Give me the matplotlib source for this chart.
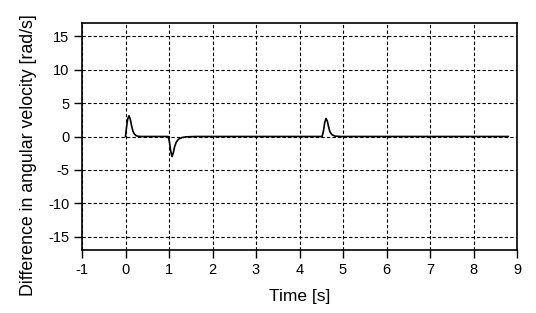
import numpy as np
import matplotlib.pyplot as plt

plt.rcParams['font.family'] = ['Liberation Sans', 'DejaVu Sans']
plt.rcParams['axes.unicode_minus'] = False

# time [s] and angular velocity difference [rad/s]
t = [0.0, 0.02, 0.05, 0.08, 0.11, 0.14, 0.17, 0.2, 0.24, 0.28, 0.35, 0.5, 0.8,
     0.98, 1.01, 1.04, 1.07, 1.1, 1.13, 1.17, 1.22, 1.3, 1.4, 1.6,
     3.0, 4.52, 4.55, 4.58, 4.61, 4.64, 4.67, 4.7, 4.75, 4.82, 4.95, 6.0, 8.8]
dw = [0.0, 1.2, 2.6, 3.1, 2.6, 1.6, 0.8, 0.4, 0.15, 0.05, 0.0, 0.0, 0.0,
      0.0, -0.8, -2.2, -3.0, -2.4, -1.5, -0.8, -0.4, -0.15, -0.05, 0.0,
      0.0, 0.0, 0.8, 2.1, 2.7, 2.3, 1.4, 0.7, 0.25, 0.05, 0.0, 0.0, 0.0]

xticks = list(range(-1, 10))
yticks = list(range(-15, 16, 5))

fig = plt.figure(figsize=(5.36, 3.13), dpi=100)
ax = fig.add_axes([82/536, 1 - 250/313, 435/536, 227/313])
ax.plot(t, dw, color='black', lw=1.2)
ax.set_xlim(-1, 9)
ax.set_ylim(-17, 17)
ax.set_xticks(xticks)
ax.set_yticks(yticks)
ax.grid(True, color='black', ls=(0, (3, 2)), lw=0.8)
ax.tick_params(direction='out', length=6, width=1, labelsize=10.5, pad=3)
for s in ax.spines.values():
    s.set_linewidth(1.2)
ax.set_xlabel('Time [s]', fontsize=12.5)
ax.set_ylabel('Difference in angular velocity [rad/s]', fontsize=12.8)
ax.xaxis.set_label_coords(0.5, -0.172)
ax.yaxis.set_label_coords(-0.103, 0.42)
fig.savefig('out.png', dpi=100)
